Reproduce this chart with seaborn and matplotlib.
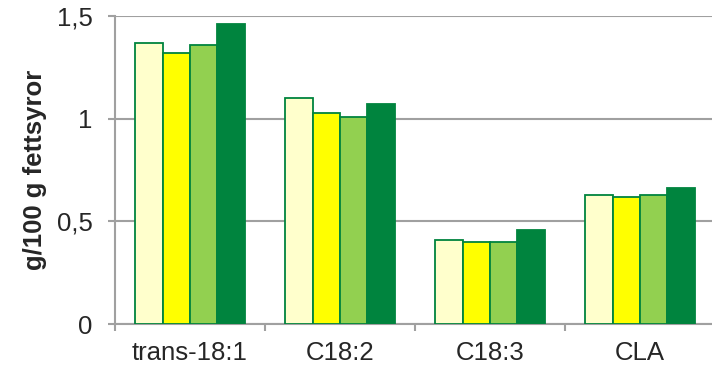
import numpy as np
import pandas as pd
import seaborn as sns
import matplotlib.pyplot as plt
from matplotlib.ticker import FixedLocator

# ── data ──────────────────────────────────────────────────────────────────────
categories = ["trans-18:1", "C18:2", "C18:3", "CLA"]
series = ["Serie 1", "Serie 2", "Serie 3", "Serie 4"]
values_s1 = [1.37, 1.10, 0.41, 0.63]
values_s2 = [1.32, 1.03, 0.40, 0.62]
values_s3 = [1.36, 1.01, 0.40, 0.63]
values_s4 = [1.46, 1.07, 0.46, 0.66]
ytick_vals = [0, 0.5, 1, 1.5]
ytick_labels = ["0", "0,5", "1", "1,5"]
colors = ["#FFFFCC", "#FFFF00", "#92D050", "#00843E"]

df = pd.DataFrame({
    "Fettsyra": categories * 4,
    "Serie": np.repeat(series, len(categories)),
    "Varde": values_s1 + values_s2 + values_s3 + values_s4,
})

sns.set_style("white")
plt.rcParams["font.family"] = ["Liberation Sans", "DejaVu Sans"]

fig = plt.figure(figsize=(7.12, 3.70), dpi=100)
ax = fig.add_axes([115 / 712, 46 / 370, 600 / 712, 308 / 370])

sns.barplot(df, x="Fettsyra", y="Varde", hue="Serie", palette=colors,
            saturation=1, width=0.73, edgecolor="#00843E", linewidth=1.3,
            legend=False, ax=ax, zorder=3)

ax.set_xlim(-0.5, 3.5)
ax.set_ylim(0, 1.5)
ax.set_yticks(ytick_vals)
ax.set_yticklabels(ytick_labels, fontsize=18.5)
ax.yaxis.grid(True, color="#A0A0A0", linewidth=1.5, zorder=0)
ax.set_axisbelow(True)

# category labels centred, tick marks between categories
ax.tick_params(axis="x", which="major", bottom=True, length=0, labelsize=18.5, pad=12)
ax.xaxis.set_minor_locator(FixedLocator(np.arange(-0.5, 4, 1.0)))
ax.tick_params(axis="x", which="minor", bottom=True, length=5, width=1.5,
               color="#A0A0A0", direction="out")
ax.tick_params(axis="y", left=True, length=5, width=1.5, color="#A0A0A0",
               direction="out", pad=11)

ax.set_xlabel("")
ax.set_ylabel("g/100 g fettsyror", fontsize=18.5, fontweight="bold")
ax.yaxis.set_label_coords(-68 / 600, 0.5)

for side in ["right", "top"]:
    ax.spines[side].set_visible(False)
for side in ["left", "bottom"]:
    ax.spines[side].set_color("#A0A0A0")
    ax.spines[side].set_linewidth(1.5)

fig.savefig("out.png", dpi=100)
